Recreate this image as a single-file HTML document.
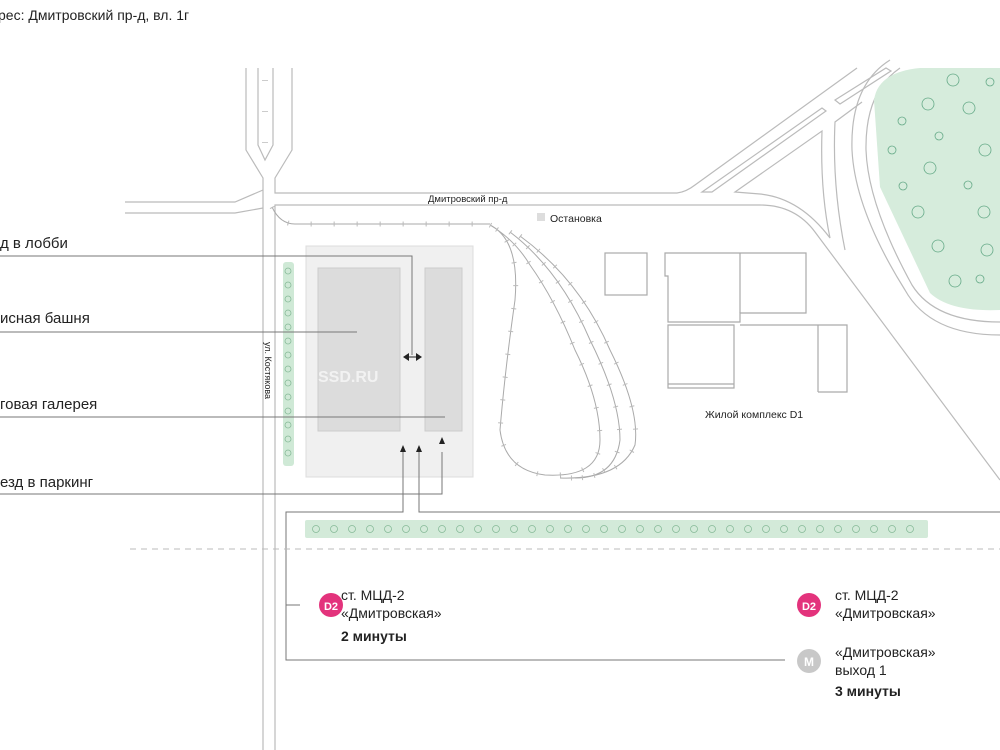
<!DOCTYPE html>
<html><head><meta charset="utf-8"><style>
html,body{margin:0;padding:0;background:#fff}
svg{display:block}
text{font-family:"Liberation Sans","DejaVu Sans",sans-serif;fill:#222}
</style></head><body>
<svg width="1000" height="750" viewBox="0 0 1000 750" xmlns="http://www.w3.org/2000/svg">
<g fill="none" stroke="#bbb" stroke-width="1.2">
<path d="M246 68 V150 L263 178 V750"/>
<path d="M292 68 V150 L275 178 V193 H677 Q686 192 695 185 L857 68"/>
<path d="M258 68 V145 L265 160 L273 145 V68"/>
<path d="M125 202 H235 L263 190"/>
<path d="M125 213 H235 L263 208"/>
<path d="M275 750 V205 H760 Q795 205 815 232 L1000 480"/>
<path d="M702 192 L822 108 L826 111 L712 192 Z"/>
<path d="M835 100 L886 68 L891 71 L840 104 Z"/>
<path d="M735 192 L822 131 Q820 190 830 238 Q800 198 760 194 Z"/>
<path d="M862 102 L835 122 Q832 185 845 250"/>
<path d="M890 60 Q850 85 852 150 Q855 210 905 290 Q930 335 1000 335"/>
<path d="M900 68 Q865 92 866 150 Q868 205 912 285 Q935 322 1000 322"/>
</g>
<line x1="265" y1="80" x2="265" y2="148" stroke-dasharray="1 30" stroke-width="6" stroke="#ccc"/>
<path d="M874 100 Q878 72 920 68 H1000 V310 Q950 312 930 293 L880 187 Z" fill="#d6ecdc"/>
<g fill="none" stroke="#6a8" stroke-width="0.8">
<circle cx="953" cy="80" r="6"/><circle cx="990" cy="82" r="4"/><circle cx="928" cy="104" r="6"/><circle cx="969" cy="108" r="6"/>
<circle cx="902" cy="121" r="4"/><circle cx="939" cy="136" r="4"/><circle cx="892" cy="150" r="4"/><circle cx="985" cy="150" r="6"/>
<circle cx="930" cy="168" r="6"/><circle cx="903" cy="186" r="4"/><circle cx="968" cy="185" r="4"/><circle cx="918" cy="212" r="6"/>
<circle cx="984" cy="212" r="6"/><circle cx="938" cy="246" r="6"/><circle cx="987" cy="250" r="6"/><circle cx="955" cy="281" r="6"/><circle cx="980" cy="279" r="4"/>
</g>
<g fill="none" stroke="#aaa" stroke-width="1.2">
<rect x="605" y="253" width="42" height="42"/>
<path d="M665 253 H806 V313 H740 V322 H668 V276 H665 Z"/>
<path d="M740 253 V313"/>
<path d="M668 325 H734 V388 H668 Z"/>
<path d="M668 384 H734"/>
<path d="M740 325 H818 V392 M818 325 H847 V392 H818"/>
</g>
<text x="705" y="418" font-size="10.5">Жилой комплекс D1</text>
<rect x="306" y="246" width="167" height="231" fill="#f0f0f0" stroke="#ddd"/>
<rect x="318" y="268" width="82" height="163" fill="#dcdcdc" stroke="#ccc"/>
<rect x="425" y="268" width="37" height="163" fill="#dcdcdc" stroke="#ccc"/>
<text x="318" y="382" font-size="16" font-weight="bold" style="fill:#f2f2f2">SSD.RU</text>
<rect x="283" y="262" width="11" height="204" rx="3" fill="#cfe9d6"/>
<g fill="none" stroke="#8b9" stroke-width="0.8">
<circle cx="288" cy="271" r="3"/><circle cx="288" cy="285" r="3"/><circle cx="288" cy="299" r="3"/><circle cx="288" cy="313" r="3"/><circle cx="288" cy="327" r="3"/><circle cx="288" cy="341" r="3"/><circle cx="288" cy="355" r="3"/><circle cx="288" cy="369" r="3"/><circle cx="288" cy="383" r="3"/><circle cx="288" cy="397" r="3"/><circle cx="288" cy="411" r="3"/><circle cx="288" cy="425" r="3"/><circle cx="288" cy="439" r="3"/><circle cx="288" cy="453" r="3"/>
</g>
<text transform="translate(265,342) rotate(90)" font-size="9">ул. Костякова</text>
<g fill="none" stroke="#aaa" stroke-width="1">
<path d="M272 207 Q280 224 295 224 H490"/>
<path d="M490 225 Q520 240 515 300 Q505 370 500 430 Q505 470 545 475 Q600 478 600 440 Q600 400 575 350 Q555 300 530 265 Q515 240 490 225"/>
<path d="M510 232 Q560 270 590 340 Q620 400 620 440 Q615 478 575 478"/>
<path d="M520 236 Q580 280 610 350 Q640 410 635 445 Q620 480 560 478"/>
</g>
<g fill="none" stroke="#bbb" stroke-width="5" stroke-dasharray="1 22">
<path d="M272 207 Q280 224 295 224 H490"/>
<path d="M490 225 Q520 240 515 300 Q505 370 500 430 Q505 470 545 475 Q600 478 600 440 Q600 400 575 350 Q555 300 530 265 Q515 240 490 225"/>
<path d="M510 232 Q560 270 590 340 Q620 400 620 440 Q615 478 575 478"/>
<path d="M520 236 Q580 280 610 350 Q640 410 635 445 Q620 480 560 478"/>
</g>
<text x="428" y="202" font-size="9.5">Дмитровский пр-д</text>
<rect x="537" y="213" width="8" height="8" fill="#ddd"/>
<text x="550" y="222" font-size="10.5">Остановка</text>
<g fill="none" stroke="#777" stroke-width="1">
<path d="M0 256 H412 V355"/>
<path d="M0 332 H357"/>
<path d="M0 417 H445"/>
<path d="M0 494 H442 V452"/>
<path d="M403 452 V512 H286 V660 H785"/>
<path d="M419 452 V512 H1000"/>
<path d="M286 605 H300"/>
</g>
<path d="M403 357 L409 353 V361 Z M422 357 L416 353 V361 Z" fill="#222"/>
<line x1="408" y1="357" x2="417" y2="357" stroke="#222"/>
<path d="M400 452 L403 445 L406 452 Z M416 452 L419 445 L422 452 Z M439 444 L442 437 L445 444 Z" fill="#222"/>
<g font-size="15">
<text x="0" y="248">д в лобби</text>
<text x="0" y="323">исная башня</text>
<text x="0" y="409">говая галерея</text>
<text x="0" y="487">езд в паркинг</text>
</g>
<text x="-2" y="20" font-size="14">рес: Дмитровский пр-д, вл. 1г</text>
<rect x="305" y="520" width="623" height="18" rx="2" fill="#d3ead9"/>
<g fill="none" stroke="#8b9" stroke-width="0.8">
<circle cx="316" cy="529" r="3.5"/><circle cx="334" cy="529" r="3.5"/><circle cx="352" cy="529" r="3.5"/><circle cx="370" cy="529" r="3.5"/><circle cx="388" cy="529" r="3.5"/><circle cx="406" cy="529" r="3.5"/><circle cx="424" cy="529" r="3.5"/><circle cx="442" cy="529" r="3.5"/><circle cx="460" cy="529" r="3.5"/><circle cx="478" cy="529" r="3.5"/><circle cx="496" cy="529" r="3.5"/><circle cx="514" cy="529" r="3.5"/><circle cx="532" cy="529" r="3.5"/><circle cx="550" cy="529" r="3.5"/><circle cx="568" cy="529" r="3.5"/><circle cx="586" cy="529" r="3.5"/><circle cx="604" cy="529" r="3.5"/><circle cx="622" cy="529" r="3.5"/><circle cx="640" cy="529" r="3.5"/><circle cx="658" cy="529" r="3.5"/><circle cx="676" cy="529" r="3.5"/><circle cx="694" cy="529" r="3.5"/><circle cx="712" cy="529" r="3.5"/><circle cx="730" cy="529" r="3.5"/><circle cx="748" cy="529" r="3.5"/><circle cx="766" cy="529" r="3.5"/><circle cx="784" cy="529" r="3.5"/><circle cx="802" cy="529" r="3.5"/><circle cx="820" cy="529" r="3.5"/><circle cx="838" cy="529" r="3.5"/><circle cx="856" cy="529" r="3.5"/><circle cx="874" cy="529" r="3.5"/><circle cx="892" cy="529" r="3.5"/><circle cx="910" cy="529" r="3.5"/>
</g>
<line x1="130" y1="549" x2="1000" y2="549" stroke="#bbb" stroke-dasharray="6 5"/>
<circle cx="331" cy="605" r="12" fill="#e3337c"/>
<text x="331" y="610" font-size="11" font-weight="bold" text-anchor="middle" style="fill:#fff">D2</text>
<g font-size="14">
<text x="341" y="600">ст. МЦД-2</text>
<text x="341" y="618">«Дмитровская»</text>
<text x="341" y="641" font-weight="bold">2 минуты</text>
</g>
<circle cx="809" cy="605" r="12" fill="#e3337c"/>
<text x="809" y="610" font-size="11" font-weight="bold" text-anchor="middle" style="fill:#fff">D2</text>
<circle cx="809" cy="661" r="12" fill="#c8c8c8"/>
<text x="809" y="666" font-size="12" font-weight="bold" text-anchor="middle" style="fill:#fff">M</text>
<g font-size="14">
<text x="835" y="600">ст. МЦД-2</text>
<text x="835" y="618">«Дмитровская»</text>
<text x="835" y="657">«Дмитровская»</text>
<text x="835" y="675">выход 1</text>
<text x="835" y="696" font-weight="bold">3 минуты</text>
</g>
</svg>
</body></html>
